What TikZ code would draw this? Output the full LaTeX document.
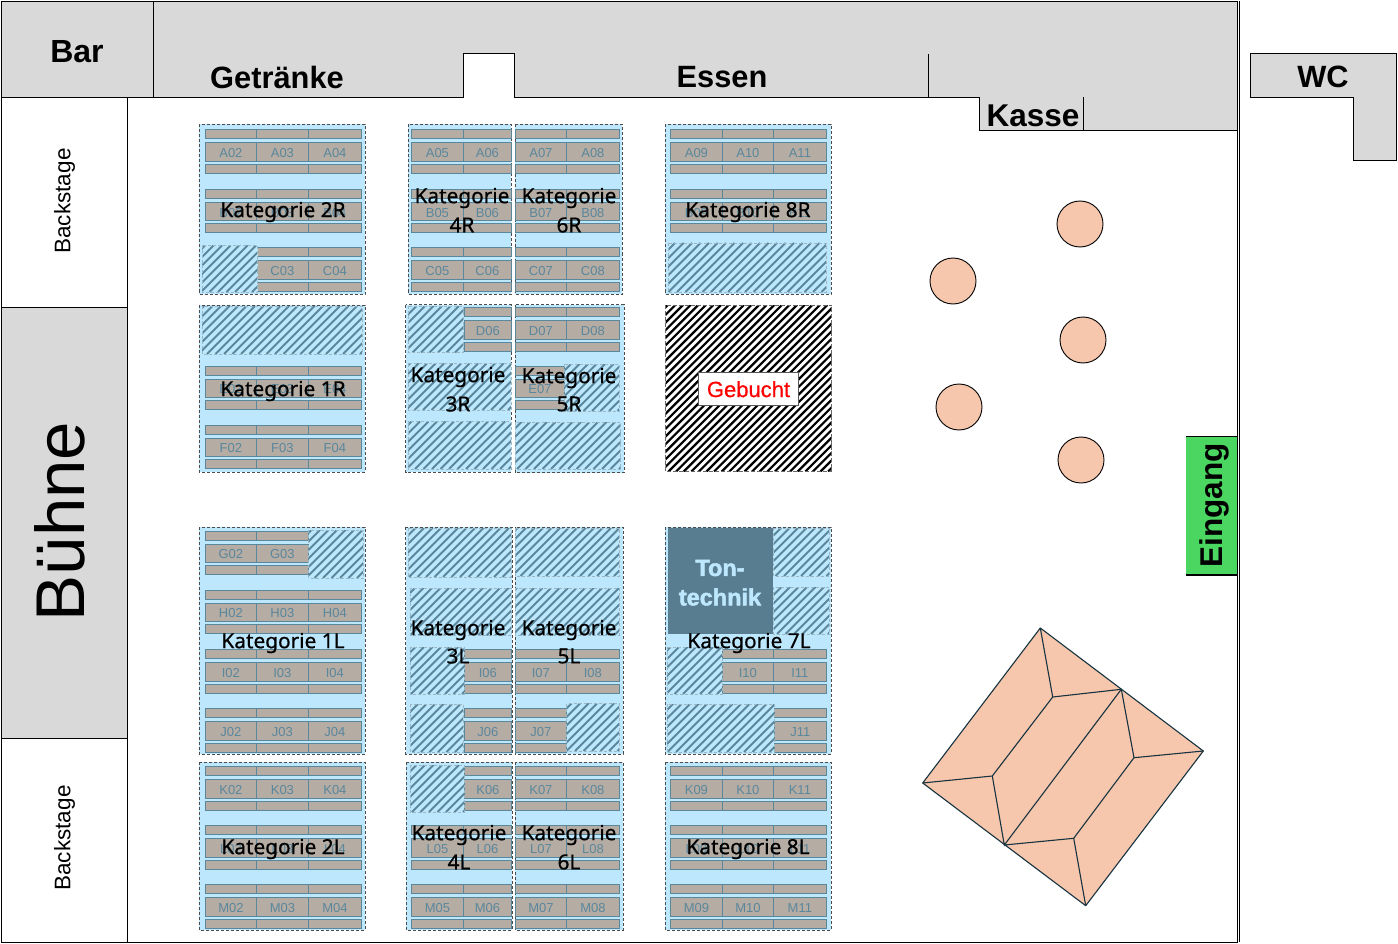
\documentclass[tikz,border=0pt]{standalone}
\usepackage{fontspec}
\setmainfont{Liberation Sans}
\newfontfamily\katfont[FakeBold=0.6]{Noto Sans}
\newfontfamily\tonfont[UprightFont=* Bold,FakeBold=2]{Liberation Sans}
\newfontfamily\gebfont[FakeBold=0.5]{Liberation Sans}
\definecolor{wallgray}{HTML}{D9D9D9}
\definecolor{bluebg}{HTML}{BDE7FC}
\definecolor{seatfill}{HTML}{B5ACA4}
\definecolor{seatline}{HTML}{5A879C}
\definecolor{stagefill}{HTML}{F6C7AD}
\definecolor{stageline}{HTML}{17333F}
\definecolor{tonfill}{HTML}{587C90}
\definecolor{greenbox}{HTML}{4AD660}
\newcommand\fs[1]{\fontsize{#1}{#1}\selectfont}
\tikzset{
  x=1pt,y=-1pt,
  wall/.style={draw=black,line width=1pt,fill=wallgray},
  plain/.style={draw=black,line width=1pt},
  blockbg/.style={fill=bluebg,draw=black!70,line width=0.9pt,dash pattern=on 3pt off 2pt},
  seat/.style={fill=seatfill,draw=seatline,line width=1pt},
  seatlab/.style={text=seatline,font=\fs{13},inner sep=0pt},
  hatchfill/.style={fill=bluebg,draw=none},
  hatchstripe/.style={draw=seatline,line width=2.1pt},
  hatchedge/.style={draw=seatline!60,line width=0.8pt,dash pattern=on 3pt off 2pt},
  blackstripe/.style={draw=black,line width=2.2pt},
  blackedge/.style={draw=black!60,line width=0.8pt,dash pattern=on 4pt off 2pt},
  kat/.style={font=\katfont\fs{20.8},text=black,inner sep=0pt,yshift=-2pt},
  katb/.style={font=\katfont\fs{20.8},text=black,inner sep=0pt},
  title/.style={font=\bfseries\fs{30.8},text=black,inner sep=0pt},
  tontext/.style={font=\tonfont\fs{23.5},text=bluebg,inner sep=0pt},
  table/.style={fill=stagefill,draw=black,line width=0.9pt},
  stage/.style={fill=stagefill,draw=stageline,line width=1.1pt,line join=round},
  stageedge/.style={draw=stageline,line width=1.1pt},
}
\newcommand\seatrow[2]{%
  \foreach \xa/\xb/\lab in {#2}{%
    \draw[seat] (\xa,#1) rectangle (\xb,#1+9);
    \draw[seat] (\xa,#1+13) rectangle (\xb,#1+31.5);
    \draw[seat] (\xa,#1+34.5) rectangle (\xb,#1+43.5);
    \node[seatlab] (seat\lab) at ({(\xa+\xb)/2+0.4},#1+23.5) {\lab};
  }}
% #1..#4 box, #5 stripe style, #6 edge style, #7 horizontal period
\newcommand\stripes[7]{%
  \begin{scope}
    \clip (#1,#2) rectangle (#3,#4);
    \pgfmathtruncatemacro\na{(#1+#2)/#7-1}
    \pgfmathtruncatemacro\nb{(#3+#4)/#7+1}
    \foreach \n in {\na,...,\nb}{%
      \pgfmathsetmacro\hc{\n*#7}
      \draw[#5] (\hc-#2,#2) -- (\hc-#4,#4);
    }
  \end{scope}
  \draw[#6] (#1,#2) rectangle (#3,#4);}
\newcommand\hatchbox[4]{\fill[hatchfill] (#1,#2) rectangle (#3,#4); \stripes{#1}{#2}{#3}{#4}{hatchstripe}{hatchedge}{8.5}}
\begin{document}
\begin{tikzpicture}
\useasboundingbox (0,0) rectangle (1398,944);
\fill[white] (0,0) rectangle (1398,944);
% outer frame
\draw[plain] (1,1.5) rectangle (1237.5,942);
\draw[plain] (1239.8,1.5) -- (1239.8,942);
% walls
\draw[wall] (153,1.5) -- (1237.5,1.5) -- (1237.5,131) -- (979.5,131) -- (979.5,97.5) -- (514,97.5) -- (514,54) -- (463.5,54) -- (463.5,97.5) -- (153,97.5) -- cycle;
\draw[wall] (1,1.5) rectangle (153,97.5);
\draw[plain] (928,54) -- (928,97.5);
\draw[plain] (1083,97.5) -- (1083,131);
\draw[wall] (1250.5,54) -- (1396.5,54) -- (1396.5,160.5) -- (1353.5,160.5) -- (1353.5,97.5) -- (1250.5,97.5) -- cycle;
\draw[plain] (1,97.5) rectangle (127,307);
\draw[wall] (1,307) rectangle (127,738);
\draw[plain] (1,738) rectangle (127,942);
\node[title,font=\bfseries\fs{32}] (bar) at (77,51.5) {Bar};
\node[title] (getraenke) at (277,77) {Getränke};
\node[title] (essen) at (722,77) {Essen};
\node[title,font=\bfseries\fs{31.5}] (kasse) at (1033,115.5) {Kasse};
\node[title] (wc) at (1323,77) {WC};
\node[font=\fs{22.5},rotate=90,inner sep=0pt] (bs1) at (64.5,201) {Backstage};
\node[font=\fs{22.5},rotate=90,inner sep=0pt] (bs2) at (64.5,838) {Backstage};
\node[font=\fs{69},rotate=90,inner sep=0pt] (buehne) at (60,521.5) {Bühne};
% blocks backgrounds
\draw[blockbg] (199,124.5) rectangle (365,294);
\draw[blockbg] (408,124.5) rectangle (511,294);
\draw[blockbg] (515,124.5) rectangle (622,294);
\draw[blockbg] (665,124.5) rectangle (831,294);
\draw[blockbg] (199,305) rectangle (365,472);
\draw[blockbg] (405.5,304.5) rectangle (511,472);
\draw[blockbg] (515,304.5) rectangle (624,472.5);
\draw[blockbg] (199,527) rectangle (365,754);
\draw[blockbg] (405.5,527) rectangle (512,754);
\draw[blockbg] (515,527) rectangle (623,754);
\draw[blockbg] (665,527) rectangle (831,754);
\draw[blockbg] (199,762) rectangle (365,930);
\draw[blockbg] (406,762) rectangle (512,930);
\draw[blockbg] (515,762) rectangle (623,930);
\draw[blockbg] (665,762) rectangle (831,930);
% seats
\seatrow{130}{205/256/A02,256/308/A03,308/361/A04,411/463/A05,463/511/A06,515/566/A07,566/619/A08,670/722/A09,722/773/A10,773/826/A11}
\seatrow{189.5}{205/256/B02,256/308/B03,308/361/B04,411/463/B05,463/511/B06,515/566/B07,566/619/B08,670/722/B09,722/773/B10,773/826/B11}
\seatrow{248}{256/308/C03,308/361/C04,411/463/C05,463/511/C06,515/566/C07,566/619/C08}
\seatrow{307.5}{464/511/D06,515/566/D07,566/619/D08}
\seatrow{366}{205/256/E02,256/308/E03,308/361/E04,515/564/E07}
\seatrow{425}{205/256/F02,256/308/F03,308/361/F04}
\seatrow{531}{205/256/G02,256/308/G03}
\seatrow{590}{205/256/H02,256/308/H03,308/361/H04}
\seatrow{649.5}{205/256/I02,256/308/I03,308/361/I04,464/511/I06,515/566/I07,566/619/I08,722/773/I10,773/826/I11}
\seatrow{708.5}{205/256/J02,256/308/J03,308/361/J04,464/511/J06,515/566/J07,774/826/J11}
\seatrow{766.5}{205/256/K02,256/308/K03,308/361/K04,464/511/K06,515/566/K07,566/619/K08,670/722/K09,722/773/K10,773/826/K11}
\seatrow{825.5}{205/256/L02,256/308/L03,308/361/L04,411/463/L05,463/511/L06,515/566/L07,566/619/L08,670/722/L09,722/773/L10,773/826/L11}
\seatrow{884.5}{205/256/M02,256/308/M03,308/361/M04,411/463/M05,463/511/M06,515/566/M07,566/619/M08,670/722/M09,722/773/M10,773/826/M11}
% hatched areas
\hatchbox{202}{245.5}{257.5}{292}
\hatchbox{668}{243}{826}{292}
\hatchbox{202}{306}{362}{354}
\hatchbox{408}{306}{463.5}{352.5}
\hatchbox{408}{363.5}{511}{410}
\hatchbox{408}{421.5}{511}{469}
\hatchbox{564.5}{364}{619}{411}
\hatchbox{515}{422}{620.5}{469}
\hatchbox{308.5}{530}{363}{578}
\hatchbox{408}{528}{511}{577}
\hatchbox{410}{588}{511}{635.5}
\hatchbox{410}{647}{464}{694}
\hatchbox{410}{704}{463}{752}
\hatchbox{515}{528}{619}{576}
\hatchbox{515}{588}{619}{635}
\hatchbox{566.5}{703.5}{619}{751}
\hatchbox{773.5}{528}{829}{576}
\hatchbox{773.5}{587}{829}{634}
\hatchbox{667}{647}{722}{694}
\hatchbox{667}{704}{774}{752}
\hatchbox{410}{765}{464}{812}
% Gebucht
\fill[white] (665.5,305) rectangle (831.5,471.5);
\stripes{665.5}{305}{831.5}{471.5}{blackstripe}{blackedge}{7.6}
\node[draw=black!65,line width=1pt,fill=white,text=red,font=\gebfont\fs{22},minimum width=99.5pt,minimum height=33.5pt,inner sep=0pt] (gebucht) at (748.5,389.2) {Gebucht};
% Tontechnik
\fill[tonfill] (668,528) rectangle (773,634);
\node[tontext] (ton1) at (720,568) {Ton-};
\node[tontext] (ton2) at (720,597) {technik};
% Kategorie labels
\node[kat] (k2r) at (283,210) {Kategorie 2R};
\node[kat] (k4ra) at (462,196) {Kategorie};
\node[katb] (k4rb) at (462,225) {4R};
\node[kat] (k6ra) at (569,196) {Kategorie};
\node[katb] (k6rb) at (569,225) {6R};
\node[kat] (k8r) at (748,210) {Kategorie 8R};
\node[kat] (k1r) at (283,389) {Kategorie 1R};
\node[kat] (k3ra) at (458,375) {Kategorie};
\node[katb] (k3rb) at (458,404) {3R};
\node[kat] (k5ra) at (569,376) {Kategorie};
\node[katb] (k5rb) at (569,404) {5R};
\node[kat] (k1l) at (283,641) {Kategorie 1L};
\node[kat] (k3la) at (458,628) {Kategorie};
\node[katb] (k3lb) at (458,656) {3L};
\node[kat] (k5la) at (569,628) {Kategorie};
\node[katb] (k5lb) at (569,656) {5L};
\node[kat] (k7l) at (749,641) {Kategorie 7L};
\node[kat] (k2l) at (283,847) {Kategorie 2L};
\node[kat] (k4la) at (459,833) {Kategorie};
\node[katb] (k4lb) at (459,862) {4L};
\node[kat] (k6la) at (569,833) {Kategorie};
\node[katb] (k6lb) at (569,862) {6L};
\node[kat] (k8l) at (748,847) {Kategorie 8L};
% tables
\draw[table] (1080,224) circle (23);
\draw[table] (953,281) circle (23);
\draw[table] (1083,340) circle (23);
\draw[table] (959,407) circle (23);
\draw[table] (1081,460) circle (23);
% entrance
\fill[greenbox] (1186,436.5) rectangle (1237,575);
\draw[black,line width=1pt] (1186,436.5) -- (1237,436.5);
\draw[black,line width=2pt] (1186,574.5) -- (1237,574.5);
\node[font=\bfseries\fs{31.5},rotate=90,inner sep=0pt] (eingang) at (1214.5,505.5) {Eingang};
% stage
\coordinate (st) at (1040.3,628);
\coordinate (sr) at (1203.3,751);
\coordinate (sb) at (1085.7,905.7);
\coordinate (sl) at (922.7,783);
\coordinate (i1) at (1052.7,697);
\coordinate (i2) at (992.3,776);
\coordinate (i3) at (1121.3,689.3);
\coordinate (i4) at (1004.3,845);
\coordinate (i5) at (1134,757.7);
\coordinate (i6) at (1073.7,838.3);
\draw[stage] (st) -- (sr) -- (sb) -- (sl) -- cycle;
\draw[stageedge] (st) -- (i1) -- (i3) -- (i5) -- (sr);
\draw[stageedge] (i1) -- (i2) -- (sl);
\draw[stageedge] (i2) -- (i4) -- (i3);
\draw[stageedge] (i5) -- (i6) -- (i4);
\draw[stageedge] (i6) -- (sb);
\end{tikzpicture}
\end{document}
